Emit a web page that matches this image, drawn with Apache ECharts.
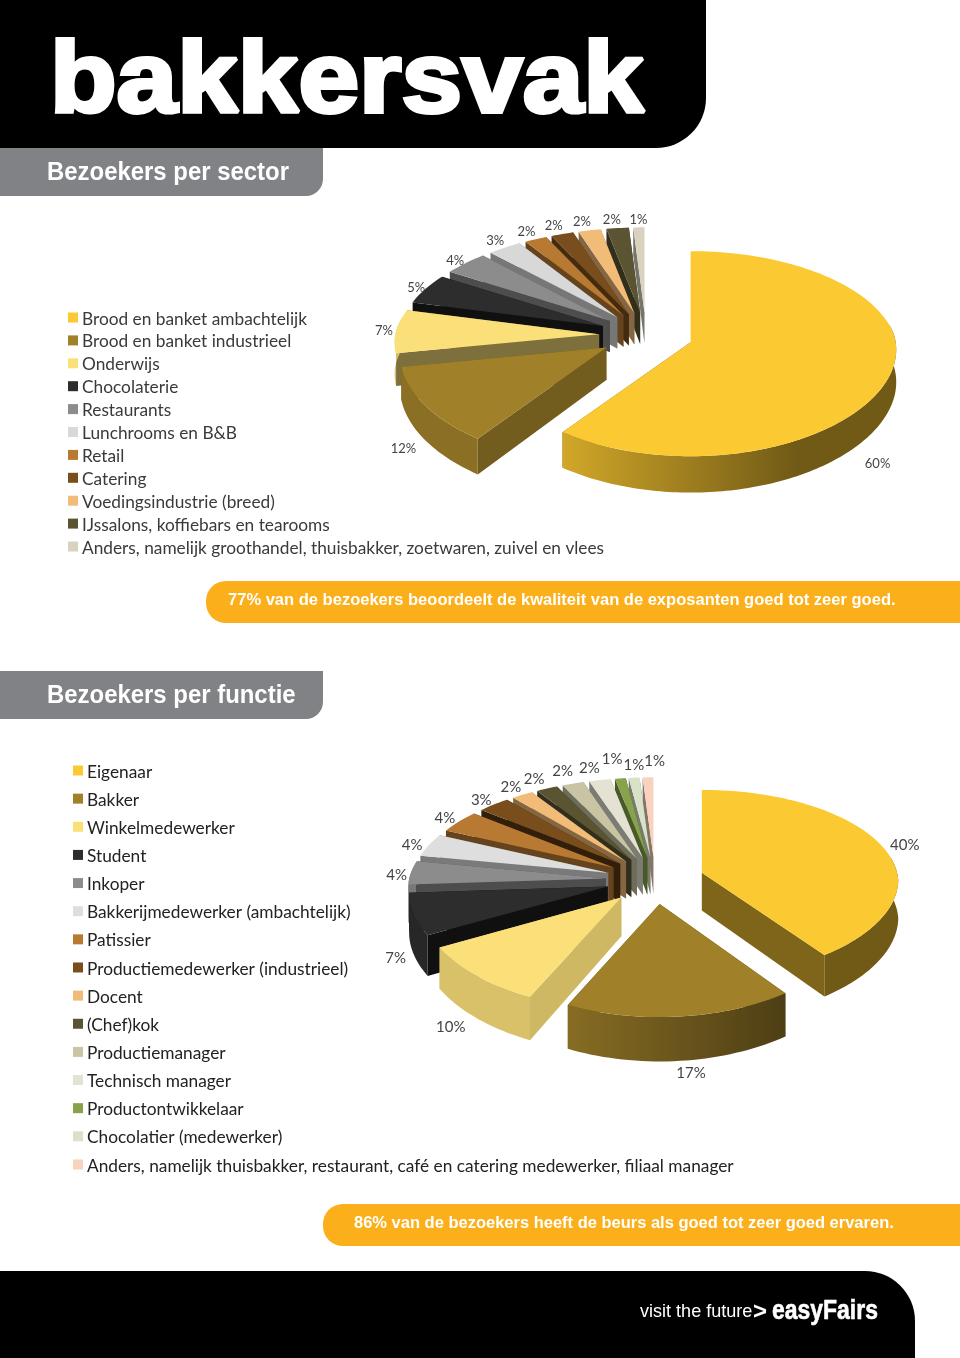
<!DOCTYPE html>
<html><head><meta charset="utf-8">
<style>html,body{margin:0;padding:0;background:#fff}#c{width:960px;height:1358px}</style>
<script src="https://cdn.jsdelivr.net/npm/echarts@6/dist/echarts.min.js"></script>
</head><body><div id="c"></div>
<script>
const sectorNames = ['Brood en banket ambachtelijk','Brood en banket industrieel','Onderwijs','Chocolaterie','Restaurants','Lunchrooms en B&B','Retail','Catering','Voedingsindustrie (breed)','IJssalons, koffiebars en tearooms','Anders, namelijk groothandel, thuisbakker, zoetwaren, zuivel en vlees'];
const sectorValues = [60,12,7,5,4,3,2,2,2,2,1];
const sectorColors = ['#FBC931','#A0812A','#FBE07A','#2D2D2E','#8C8C8C','#D8D8D8','#B87A32','#7A4E1C','#F0BC78','#5A5433','#D8D2BE'];
const functionNames = ['Eigenaar','Bakker','Winkelmedewerker','Student','Inkoper','Bakkerijmedewerker (ambachtelijk)','Patissier','Productiemedewerker (industrieel)','Docent','(Chef)kok','Productiemanager','Technisch manager','Productontwikkelaar','Chocolatier (medewerker)','Anders, namelijk thuisbakker, restaurant, café en catering medewerker, filiaal manager'];
const functionValues = [40,17,10,7,4,4,4,3,2,2,2,2,1,1,1];
const functionColors = ['#FBC931','#A0812A','#FBE07A','#2D2D2E','#8C8C8C','#DEDEDE','#B87A32','#7A4E1C','#F0BC78','#5A5433','#C8C4A4','#E4E2D2','#87A24A','#D8E2C8','#F8D2BC'];

const sectorPie = {cx:646,cy:335,rx:204,ry:99.6,p:0.112,e:0.23,depth:32,font:13,labelR:1.09,
  wall:[.5,.72,.5,.35,.55,.55,.55,.55,.55,.55,.55],
  nudge:[[-31,86],[-5,37],[6,0],[6,2],[2,2],[0,-1],[-2,-1],[-3,-2],[-4,-2],[-4,-1],[0,-1]]};
const functionPie = {cx:655,cy:880,rx:197,ry:94,p:0.115,e:0.25,depth:38,font:15,labelR:1.09,
  wall:[.5,.6,.82,.35,.55,.55,.55,.4,.55,.55,.55,.55,.55,.55,.55],
  nudge:[[8,2],[9,45],[-12,44],[0,41],[3,3],[-1,2],[-1,1],[-2,0],[-3,-2],[-6,-4],[-5,-6],[-7,-6],[-6,-13],[1,-6],[7,-10]]};

function shade(hex,m){
  const n=parseInt(hex.slice(1),16);
  const f=v=>Math.round(Math.min(255,v*m));
  return 'rgb('+f(n>>16)+','+f((n>>8)&255)+','+f(n&255)+')';
}
function pieSeries(values,colors,g){
  const total=values.reduce((a,b)=>a+b,0);
  let c=0;
  const slices=values.map((v,i)=>{const a=c/total*2*Math.PI;c+=v;const b=c/total*2*Math.PI;const m=(a+b)/2;
    return {i,v,a,b,m,ox:g.e*Math.sin(m),oy:g.e*Math.cos(m)};});
  const order=slices.slice().sort((s,t)=>t.oy-s.oy);
  const pr=(ox,oy,dx,dy)=>{const Y=oy+dy,s=1/(1+g.p*Y),sx=Y<0?1/(1+g.p*0.65*Y):s;
    return [g.cx+g.rx*(ox+dx*sx),g.cy-g.ry*Y*s,g.depth*s];};
  const top=(s,t,r)=>pr(s.ox,s.oy,r*Math.sin(t),r*Math.cos(t));
  return {type:'custom',coordinateSystem:'none',silent:true,animation:false,
    data:order.map(s=>[s.i,s.v]),
    renderItem(params,api){
      const s=slices[api.value(0)],col=colors[s.i],kids=[];
      const apex=pr(s.ox,s.oy,0,0);
      const N=Math.max(6,Math.ceil((s.b-s.a)/0.03));
      const rim=[];for(let k=0;k<=N;k++)rim.push(top(s,s.a+(s.b-s.a)*k/N,1));
      const radial=p=>({type:'polygon',shape:{points:[[apex[0],apex[1]],[p[0],p[1]],[p[0],p[1]+p[2]],[apex[0],apex[1]+apex[2]]]},style:{fill:shade(col,g.wall[s.i])}});
      kids.push(radial(rim[0]),radial(rim[N]));
      const lo=Math.max(s.a,80*Math.PI/180),hi=Math.min(s.b,280*Math.PI/180);
      if(hi>lo){
        const up=[],dn=[];
        for(let k=0;k<=N;k++){const q=top(s,lo+(hi-lo)*k/N,1);up.push([q[0],q[1]]);dn.unshift([q[0],q[1]+q[2]]);}
        const x0=g.cx-100,x1=g.cx+150;
        kids.push({type:'polygon',shape:{points:up.concat(dn)},style:{fill:new echarts.graphic.LinearGradient(x0,0,x1,0,[{offset:0,color:shade(col,0.86)},{offset:1,color:shade(col,0.45)}],true)}});
      }
      kids.push({type:'polygon',shape:{points:[[apex[0],apex[1]]].concat(rim.map(q=>[q[0],q[1]]))},style:{fill:col}});
      const lp=top(s,s.m,g.labelR),nd=g.nudge[s.i];
      kids.push({type:'text',style:{text:s.v+'%',x:lp[0]+nd[0],y:lp[1]+nd[1],align:'center',verticalAlign:'middle',font:g.font+'px Lato, Carlito, sans-serif',fill:'#444'}});
      return {type:'group',children:kids};
    }};
}
function legend(names,colors,x,y0,step,box,tx,font,fill){
  const out=[];
  names.forEach((n,i)=>{const y=y0+step*i;
    out.push({type:'rect',shape:{x:x,y:y-box/2,width:box,height:box},style:{fill:colors[i]}});
    out.push({type:'text',style:{text:n,x:tx,y:y+1.5,verticalAlign:'middle',font:font,fill:fill}});});
  return out;
}
const B='bold ',SANS='"Liberation Sans", Arial, sans-serif';
const band=(x,y,w,h,r,fill)=>({type:'rect',shape:{x,y,width:w,height:h,r},style:{fill}});
function txt(text,x,y,font,fill,sx,stroke){return {type:'text',x:x,y:y,scaleX:sx||1,style:{text,x:0,y:0,verticalAlign:'middle',font,fill,stroke:stroke||null,lineWidth:stroke?0.6:0}};}

const chart=echarts.init(document.getElementById('c'),null,{renderer:'canvas',width:960,height:1358});
chart.setOption({backgroundColor:'#fff',animation:false,
  series:[pieSeries(sectorValues,sectorColors,sectorPie),pieSeries(functionValues,functionColors,functionPie)],
  graphic:{elements:[
    band(0,0,706,148,[0,0,50,0],'#000'),
    band(0,148,323,48,[0,0,17,0],'#808285'),
    band(0,671,323,48,[0,0,17,0],'#808285'),
    band(206,581,754,42,[20,0,0,20],'#FBB01B'),
    band(323,1204,637,42,[20,0,0,20],'#FBB01B'),
    band(0,1271,915,87,[0,50,0,0],'#000'),
    {type:'text',x:50,y:84,scaleX:1.09,style:{text:'bakkersvak',x:0,y:0,verticalAlign:'middle',font:'bold 100px '+SANS,fill:'#fff',stroke:'#fff',lineWidth:4}},
    txt('Bezoekers per sector',47,173,B+'26px '+SANS,'#fff',0.92),
    txt('Bezoekers per functie',47,696,B+'26px '+SANS,'#fff',0.92),
    txt('77% van de bezoekers beoordeelt de kwaliteit van de exposanten goed tot zeer goed.',228,600,B+'17px '+SANS,'#fff',0.972),
    txt('86% van de bezoekers heeft de beurs als goed tot zeer goed ervaren.',354,1223,B+'17px '+SANS,'#fff',0.97),
    txt('visit the future',640,1312,'19px '+SANS,'#fff',0.95),
    txt('>',753,1312,B+'24px '+SANS,'#fff'),
    txt('easyFairs',772,1312,B+'27px '+SANS,'#fff',0.85,'#fff'),
    ...legend(sectorNames,sectorColors,68,317.5,22.9,10,82,'17.3px Lato, Carlito, sans-serif','#3a3a3a'),
    ...legend(functionNames,functionColors,73,770.5,28.14,10,87,'17.3px Lato, Carlito, sans-serif','#222')
  ]}
});
</script></body></html>
